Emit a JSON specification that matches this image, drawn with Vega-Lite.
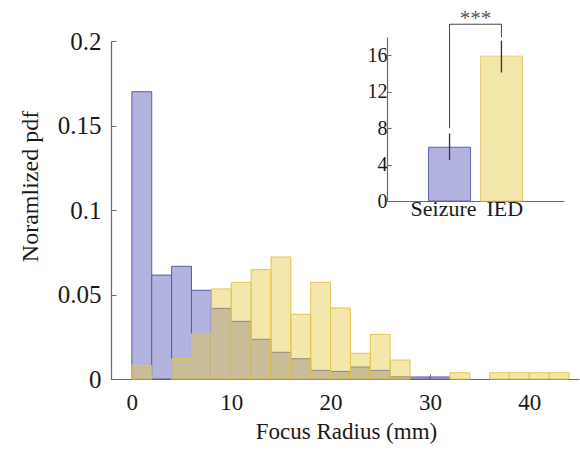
{
  "$schema": "https://vega.github.io/schema/vega-lite/v6.json",
  "width": 468,
  "height": 338,
  "autosize": "none",
  "padding": {"left": 111, "top": 41, "right": 1, "bottom": 88},
  "background": "white",
  "config": {
    "view": {"stroke": null},
    "font": "Liberation Serif, Times New Roman, DejaVu Serif, serif",
    "axis": {
      "grid": false,
      "labelFont": "Liberation Serif, Times New Roman, DejaVu Serif, serif",
      "titleFont": "Liberation Serif, Times New Roman, DejaVu Serif, serif",
      "labelColor": "#1a1a1a",
      "titleColor": "#1a1a1a",
      "titleFontWeight": "normal",
      "domainColor": "#6a6a6a",
      "tickColor": "#6a6a6a",
      "domainWidth": 1.2,
      "tickWidth": 1
    }
  },
  "datasets": {
    "hist": [
      {"group": "Seizure", "start": 0, "end": 2, "pdf": 0.170},
      {"group": "Seizure", "start": 2, "end": 4, "pdf": 0.0615},
      {"group": "Seizure", "start": 4, "end": 6, "pdf": 0.0667},
      {"group": "Seizure", "start": 6, "end": 8, "pdf": 0.0525},
      {"group": "Seizure", "start": 8, "end": 10, "pdf": 0.0418},
      {"group": "Seizure", "start": 10, "end": 12, "pdf": 0.0341},
      {"group": "Seizure", "start": 12, "end": 14, "pdf": 0.0235},
      {"group": "Seizure", "start": 14, "end": 16, "pdf": 0.0158},
      {"group": "Seizure", "start": 16, "end": 18, "pdf": 0.0120},
      {"group": "Seizure", "start": 18, "end": 20, "pdf": 0.0051},
      {"group": "Seizure", "start": 20, "end": 22, "pdf": 0.0045},
      {"group": "Seizure", "start": 22, "end": 24, "pdf": 0.0071},
      {"group": "Seizure", "start": 24, "end": 26, "pdf": 0.0051},
      {"group": "Seizure", "start": 26, "end": 28, "pdf": 0.0013},
      {"group": "Seizure", "start": 28, "end": 30, "pdf": 0.0012},
      {"group": "Seizure", "start": 30, "end": 32, "pdf": 0.0012},
      {"group": "IED", "start": 0, "end": 2, "pdf": 0.0081},
      {"group": "IED", "start": 4, "end": 6, "pdf": 0.0120},
      {"group": "IED", "start": 6, "end": 8, "pdf": 0.0268},
      {"group": "IED", "start": 8, "end": 10, "pdf": 0.0533},
      {"group": "IED", "start": 10, "end": 12, "pdf": 0.0572},
      {"group": "IED", "start": 12, "end": 14, "pdf": 0.0647},
      {"group": "IED", "start": 14, "end": 16, "pdf": 0.0722},
      {"group": "IED", "start": 16, "end": 18, "pdf": 0.0383},
      {"group": "IED", "start": 18, "end": 20, "pdf": 0.0572},
      {"group": "IED", "start": 20, "end": 22, "pdf": 0.0420},
      {"group": "IED", "start": 22, "end": 24, "pdf": 0.0152},
      {"group": "IED", "start": 24, "end": 26, "pdf": 0.0264},
      {"group": "IED", "start": 26, "end": 28, "pdf": 0.0112},
      {"group": "IED", "start": 32, "end": 34, "pdf": 0.0037},
      {"group": "IED", "start": 36, "end": 38, "pdf": 0.0037},
      {"group": "IED", "start": 38, "end": 40, "pdf": 0.0037},
      {"group": "IED", "start": 40, "end": 42, "pdf": 0.0037},
      {"group": "IED", "start": 42, "end": 44, "pdf": 0.0037}
    ],
    "inset": [
      {"group": "Seizure", "mean": 5.9, "lo": 4.5, "hi": 7.4},
      {"group": "IED", "mean": 15.9, "lo": 14.1, "hi": 17.6}
    ],
    "bracket": [
      {"group": "Seizure", "ord": 1, "v": 8.0},
      {"group": "Seizure", "ord": 2, "v": 19.4},
      {"group": "IED", "ord": 3, "v": 19.4},
      {"group": "IED", "ord": 4, "v": 18.0}
    ],
    "stars": [
      {"group": "Seizure", "v": 19.4, "label": "***"}
    ]
  },
  "layer": [
    {
      "layer": [
        {
          "data": {"name": "hist"},
          "transform": [{"filter": "datum.group == 'Seizure'"}],
          "mark": {"type": "bar", "orient": "vertical", "fill": "#B3B3DF", "stroke": "#5A5AA8", "strokeWidth": 1},
          "encoding": {
            "x": {
              "field": "start", "type": "quantitative",
              "scale": {"domain": [-2.1, 45], "nice": false, "zero": false, "padding": 0},
              "axis": {
                "values": [0, 10, 20, 30, 40],
                "tickSize": -5,
                "labelPadding": 17,
                "labelFontSize": 23,
                "title": "Focus Radius (mm)",
                "titleFontSize": 23,
                "titleX": 235,
                "titleY": 59,
                "titleBaseline": "alphabetic",
                "titleAlign": "center"
              }
            },
            "x2": {"field": "end"},
            "y": {
              "field": "pdf", "type": "quantitative",
              "scale": {"domain": [0, 0.2], "nice": false, "padding": 0},
              "axis": {
                "values": [0, 0.05, 0.1, 0.15, 0.2],
                "format": "~g",
                "tickSize": -5,
                "labelPadding": 15,
                "labelFontSize": 25,
                "title": "Noramlized pdf",
                "titleFontSize": 24,
                "titleAngle": -90,
                "titleX": -74,
                "titleY": 145,
                "titleBaseline": "alphabetic",
                "titleAlign": "center"
              }
            },
            "y2": {"datum": 0}
          }
        },
        {
          "data": {"name": "hist"},
          "transform": [{"filter": "datum.group == 'IED'"}],
          "mark": {"type": "bar", "orient": "vertical", "fill": "#E3C83C", "fillOpacity": 0.43, "stroke": "#E2C650", "strokeWidth": 1},
          "encoding": {
            "x": {"field": "start", "type": "quantitative"},
            "x2": {"field": "end"},
            "y": {"field": "pdf", "type": "quantitative"},
            "y2": {"datum": 0}
          }
        }
      ]
    },
    {
      "layer": [
        {
          "data": {"name": "inset"},
          "mark": {"type": "bar", "strokeWidth": 1},
          "encoding": {
            "x": {
              "field": "group", "type": "nominal", "sort": ["Seizure", "IED"],
              "scale": {"type": "band", "range": [276, 453], "paddingInner": 0.19, "paddingOuter": 0.8},
              "axis": {
                "orient": "bottom",
                "offset": -178,
                "title": null,
                "labelAngle": 0,
                "tickSize": -4,
                "labelPadding": 1,
                "labelFontSize": 22,
                "labelAlign": {"condition": {"test": "datum.value == 'Seizure'", "value": "right"}, "value": "left"},
                "labelOffset": {"condition": {"test": "datum.value == 'Seizure'", "value": 27}, "value": -15}
              }
            },
            "y": {
              "field": "mean", "type": "quantitative",
              "scale": {"domain": [0, 18], "range": [160, -4], "nice": false},
              "axis": {
                "orient": "left",
                "offset": -276,
                "title": null,
                "values": [0, 2, 4, 6, 8, 10, 12, 14, 16, 18],
                "labelExpr": "datum.value % 4 == 0 && datum.value < 18 ? datum.label : ''",
                "tickSize": -4,
                "labelPadding": 4,
                "labelFontSize": 20
              }
            },
            "fill": {
              "field": "group", "type": "nominal",
              "scale": {"domain": ["Seizure", "IED"], "range": ["#B3B3DF", "#F2E6A8"]},
              "legend": null
            },
            "stroke": {
              "field": "group", "type": "nominal",
              "scale": {"domain": ["Seizure", "IED"], "range": ["#6060AA", "#E4CE72"]},
              "legend": null
            }
          }
        },
        {
          "data": {"name": "inset"},
          "mark": {"type": "rule", "color": "#333333", "strokeWidth": 1.3},
          "encoding": {
            "x": {"field": "group", "type": "nominal", "sort": ["Seizure", "IED"]},
            "y": {"field": "lo", "type": "quantitative"},
            "y2": {"field": "hi"}
          }
        },
        {
          "data": {"name": "bracket"},
          "mark": {"type": "line", "color": "#444444", "strokeWidth": 1},
          "encoding": {
            "x": {"field": "group", "type": "nominal", "sort": ["Seizure", "IED"]},
            "y": {"field": "v", "type": "quantitative"},
            "order": {"field": "ord", "type": "quantitative"}
          }
        },
        {
          "data": {"name": "stars"},
          "mark": {"type": "text", "font": "Liberation Serif, Times New Roman, DejaVu Serif, serif", "fontSize": 21, "color": "#555555", "baseline": "alphabetic", "align": "center", "dx": 26, "dy": 1},
          "encoding": {
            "x": {"field": "group", "type": "nominal", "sort": ["Seizure", "IED"]},
            "y": {"field": "v", "type": "quantitative"},
            "text": {"field": "label"}
          }
        }
      ]
    }
  ],
  "resolve": {
    "scale": {"x": "independent", "y": "independent"},
    "axis": {"x": "independent", "y": "independent"}
  }
}
